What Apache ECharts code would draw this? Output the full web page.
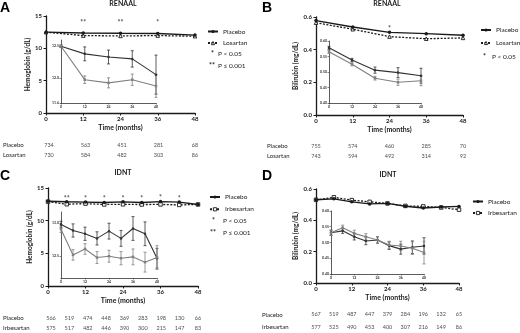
<!DOCTYPE html>
<html>
<head>
<meta charset="utf-8">
<script src="https://cdn.jsdelivr.net/npm/echarts@6/dist/echarts.min.js"></script>
<style>
html, body { margin: 0; padding: 0; background: #fff; }
#main { width: 520px; height: 333px; }
</style>
</head>
<body>
<div id="main"></div>
<script>
// RENAAL visits every 12 months, IDNT every 6
var monthsR = [0, 12, 24, 36, 48];
var monthsI = [0, 6, 12, 18, 24, 30, 36, 42, 48];

// A - RENAAL hemoglobin (g/dL)
var hbPlaceboR = [12.5, 12.38, 12.33, 12.3, 12.05];
var hbLosartan = [12.5, 11.97, 11.92, 11.97, 11.87];
var hbPlaceboRErr = [0.02, 0.11, 0.11, 0.13, 0.31];
var hbLosartanErr = [0.02, 0.06, 0.08, 0.09, 0.18];
var hbSigR = ['', '**', '**', '*', ''];
var atRiskPlaceboA = [734, 563, 451, 281, 68];
var atRiskLosartanA = [730, 584, 482, 303, 86];

// B - RENAAL bilirubin (mg/dL)
var biliPlaceboR = [0.578, 0.539, 0.506, 0.498, 0.488];
var biliLosartan = [0.565, 0.525, 0.48, 0.467, 0.472];
var biliPlaceboRErr = [0.005, 0.005, 0.01, 0.016, 0.024];
var biliLosartanErr = [0.005, 0.005, 0.006, 0.01, 0.016];
var biliSigR = ['', '', '*', '', ''];
var atRiskPlaceboB = [755, 574, 460, 285, 70];
var atRiskLosartanB = [743, 594, 492, 314, 92];

// C - IDNT hemoglobin (g/dL)
var hbPlaceboI = [12.98, 12.89, 12.84, 12.77, 12.88, 12.77, 12.92, 12.84, 12.47];
var hbIrbesartan = [12.91, 12.52, 12.61, 12.48, 12.5, 12.47, 12.49, 12.41, 12.48];
var hbPlaceboIErr = [0.05, 0.1, 0.1, 0.1, 0.12, 0.12, 0.18, 0.18, 0.15];
var hbIrbesartanErr = [0.05, 0.08, 0.08, 0.09, 0.09, 0.1, 0.12, 0.15, 0.18];
var hbSigI = ['', '**', '*', '*', '*', '*', '*', '*', ''];
var atRiskPlaceboC = [566, 519, 474, 448, 369, 283, 198, 130, 66];
var atRiskIrbesartanC = [575, 517, 482, 446, 390, 300, 215, 147, 83];

// D - IDNT bilirubin (mg/dL)
var biliPlaceboI = [0.531, 0.537, 0.518, 0.505, 0.508, 0.49, 0.479, 0.485, 0.489];
var biliIrbesartan = [0.531, 0.547, 0.529, 0.518, 0.508, 0.492, 0.489, 0.482, 0.468];
var biliPlaceboIErr = [0.008, 0.008, 0.01, 0.012, 0.01, 0.012, 0.016, 0.02, 0.026];
var biliIrbesartanErr = [0.008, 0.008, 0.01, 0.01, 0.01, 0.012, 0.015, 0.02, 0.036];
var atRiskPlaceboD = [567, 519, 487, 447, 379, 284, 196, 132, 65];
var atRiskIrbesartanD = [577, 525, 490, 453, 400, 307, 216, 149, 86];

var FONT = 'Lato, "DejaVu Sans", sans-serif';
var INK = '#1a1a1a';
var GREY = '#808080';

var grids = [], xAxes = [], yAxes = [], series = [], legends = [], graphics = [];

function zip(xs, ys) {
  return xs.map(function (x, i) { return [x, ys[i]]; });
}

function errorBars(axisIdx, xs, ys, errs, color) {
  return {
    type: 'custom',
    xAxisIndex: axisIdx, yAxisIndex: axisIdx,
    silent: true,
    encode: { x: 0, y: [1, 2] },
    data: xs.map(function (x, i) { return [x, ys[i] - errs[i], ys[i] + errs[i]]; }),
    renderItem: function (params, api) {
      var lo = api.coord([api.value(0), api.value(1)]);
      var hi = api.coord([api.value(0), api.value(2)]);
      var w = 1.5;
      var st = { stroke: color, lineWidth: 0.8 };
      return {
        type: 'group',
        children: [
          { type: 'line', shape: { x1: lo[0], y1: lo[1], x2: hi[0], y2: hi[1] }, style: st },
          { type: 'line', shape: { x1: lo[0] - w, y1: lo[1], x2: lo[0] + w, y2: lo[1] }, style: st },
          { type: 'line', shape: { x1: hi[0] - w, y1: hi[1], x2: hi[0] + w, y2: hi[1] }, style: st }
        ]
      };
    }
  };
}

function addPanel(p) {
  var m = grids.length;      // main grid
  var ins = m + 1;           // inset grid
  var tb = m + 2;            // number-at-risk grid

  grids.push(p.main, p.inset, p.table);

  // main axes
  xAxes.push({
    gridIndex: m, type: 'value', min: 0, max: 48, interval: 12,
    name: 'Time (months)', nameLocation: 'middle', nameGap: 11,
    nameTextStyle: { fontFamily: FONT, fontWeight: 'bold', fontSize: 7, color: INK },
    axisLine: { lineStyle: { color: INK, width: 1.3 } },
    axisTick: { length: 2.5, lineStyle: { color: INK, width: 1 } },
    axisLabel: { fontFamily: FONT, fontWeight: 'bold', fontSize: 6, color: INK, margin: 3.5 },
    splitLine: { show: false }
  });
  yAxes.push({
    gridIndex: m, type: 'value', min: 0, max: p.yMax, interval: p.yStep,
    name: p.yName, nameLocation: 'middle', nameGap: 12,
    nameTextStyle: { fontFamily: FONT, fontWeight: 'bold', fontSize: 6.5, color: INK },
    axisLine: { show: true, lineStyle: { color: INK, width: 1.3 } },
    axisTick: { show: true, length: 2.5, lineStyle: { color: INK, width: 1 } },
    axisLabel: {
      fontFamily: FONT, fontWeight: 'bold', fontSize: 6, color: INK, margin: 4,
      formatter: function (v) { return v.toFixed(p.yDigits); }
    },
    splitLine: { show: false }
  });

  // inset axes
  xAxes.push({
    gridIndex: ins, type: 'value', min: 0, max: 48, interval: 12,
    axisLine: { lineStyle: { color: '#333', width: 0.8 } },
    axisTick: { length: 1.5, lineStyle: { color: '#333', width: 0.6 } },
    axisLabel: { fontFamily: FONT, fontWeight: 'bold', fontSize: 3.5, color: '#333', margin: 2 },
    splitLine: { show: false }
  });
  var insY = {
    gridIndex: ins, type: 'value', min: p.insMin, max: p.insMax,
    axisLine: { show: true, lineStyle: { color: '#333', width: 0.8 } },
    axisTick: { show: true, length: 1.5, lineStyle: { color: '#333', width: 0.6 } },
    axisLabel: {
      fontFamily: FONT, fontWeight: 'bold', fontSize: 3.5, color: '#333', margin: 2,
      formatter: function (v) { return v.toFixed(p.insDigits); }
    },
    splitLine: { show: false }
  };
  if (p.insTicks) {
    insY.axisLabel.customValues = p.insTicks;
    insY.axisTick.customValues = p.insTicks;
  } else {
    insY.interval = p.insStep;
  }
  yAxes.push(insY);

  // number-at-risk table axes
  xAxes.push({ gridIndex: tb, type: 'value', min: 0, max: 48, show: false });
  yAxes.push({
    gridIndex: tb, type: 'category', inverse: true, data: ['Placebo', p.drug],
    axisLine: { show: false }, axisTick: { show: false },
    axisLabel: { fontFamily: FONT, fontSize: 6, color: INK, align: 'left', margin: p.tableLabelMargin }
  });

  // main lines
  series.push({
    name: 'Placebo', type: 'line', xAxisIndex: m, yAxisIndex: m,
    data: zip(p.months, p.placebo),
    symbol: 'circle', symbolSize: 3.5,
    itemStyle: { color: INK },
    lineStyle: { color: INK, width: 1.4 },
    z: 5
  });
  series.push({
    name: p.drug, type: 'line', xAxisIndex: m, yAxisIndex: m,
    data: zip(p.months, p.drugVals),
    symbol: p.drugSymbol, symbolSize: 3.5,
    itemStyle: { color: '#fff', borderColor: INK, borderWidth: 0.9 },
    lineStyle: { color: INK, width: 1.3, type: [2, 1.5] },
    z: 4
  });
  if (p.sig) {
    series.push({
      type: 'scatter', xAxisIndex: m, yAxisIndex: m, silent: true,
      data: zip(p.months, p.placebo), symbolSize: 0,
      label: {
        show: true, position: 'top', distance: p.sigGap,
        fontFamily: FONT, fontWeight: 'bold', fontSize: 7, color: INK,
        formatter: function (d) { return p.sig[d.dataIndex]; }
      },
      z: 6
    });
  }

  // inset lines with error bars
  series.push(errorBars(ins, p.months, p.placebo, p.placeboErr, '#333'));
  series.push(errorBars(ins, p.months, p.drugVals, p.drugErr, GREY));
  series.push({
    name: 'Placebo (inset)', type: 'line', xAxisIndex: ins, yAxisIndex: ins,
    data: zip(p.months, p.placebo), symbol: 'circle', symbolSize: 2.5,
    itemStyle: { color: '#333' }, lineStyle: { color: '#333', width: 1.1 }, z: 3
  });
  series.push({
    name: p.drug + ' (inset)', type: 'line', xAxisIndex: ins, yAxisIndex: ins,
    data: zip(p.months, p.drugVals), symbol: 'rect', symbolSize: 2.5,
    itemStyle: { color: GREY }, lineStyle: { color: GREY, width: 1.1 }, z: 3
  });

  // number-at-risk rows
  [['Placebo', p.riskPlacebo], [p.drug, p.riskDrug]].forEach(function (row) {
    series.push({
      type: 'scatter', xAxisIndex: tb, yAxisIndex: tb, silent: true, symbolSize: 0,
      data: p.tableMonths.map(function (x, i) { return [x, row[0], row[1][i]]; }),
      label: {
        show: true, position: 'inside', fontFamily: FONT, fontSize: 5.5, color: INK,
        formatter: function (d) { return d.value[2]; }
      }
    });
  });

  legends.push({
    orient: 'vertical', left: p.legendLeft, top: p.legendTop,
    itemWidth: 10, itemHeight: 4, itemGap: p.legendGap, padding: 0,
    textStyle: { fontFamily: FONT, fontSize: 6.5, lineHeight: 7, color: INK },
    data: [
      { name: 'Placebo', itemStyle: { color: INK } },
      { name: p.drug, itemStyle: { color: '#fff', borderColor: INK, borderWidth: 0.9 }, lineStyle: { color: INK, type: [2, 1.5] } }
    ]
  });

  graphics.push({
    type: 'text', x: p.titleX, y: p.titleY,
    style: { text: p.title, fontFamily: FONT, fontWeight: 'bold', fontSize: 7, fill: INK, align: 'center', verticalAlign: 'middle' }
  });
  graphics.push({
    type: 'text', x: p.letterX, y: p.letterY,
    style: { text: p.letter, fontFamily: 'Liberation Sans, Arial, sans-serif', fontWeight: 'bold', fontSize: 14, fill: '#000', align: 'left', verticalAlign: 'middle' }
  });
  (p.starKey || []).forEach(function (k) {
    graphics.push({
      type: 'text', x: k[0], y: k[2],
      style: { text: k[3], fontFamily: FONT, fontWeight: 'bold', fontSize: 7, fill: INK, align: 'left', verticalAlign: 'middle' }
    });
    graphics.push({
      type: 'text', x: k[1], y: k[2],
      style: { text: k[4], fontFamily: FONT, fontSize: 6.5, fill: INK, align: 'left', verticalAlign: 'middle' }
    });
  });
}

addPanel({
  letter: 'A', letterX: 0, letterY: 8, title: 'RENAAL', titleX: 123, titleY: 4,
  main: { left: 46, top: 16, width: 149, height: 97 },
  inset: { left: 61, top: 40, width: 95, height: 63 },
  table: { left: 46, top: 139.5, width: 149, height: 21 },
  yMax: 15, yStep: 5, yDigits: 0, yName: 'Hemoglobin (g/dL)',
  insMin: 11.6, insMax: 12.6, insTicks: [11.6, 12.0, 12.5], insDigits: 1,
  months: monthsR, tableMonths: monthsR,
  placebo: hbPlaceboR, drugVals: hbLosartan, placeboErr: hbPlaceboRErr, drugErr: hbLosartanErr,
  drug: 'Losartan', drugSymbol: 'triangle',
  sig: hbSigR, sigGap: 7,
  riskPlacebo: atRiskPlaceboA, riskDrug: atRiskLosartanA, tableLabelMargin: 46,
  legendLeft: 207, legendTop: 28, legendGap: 4.6,
  starKey: [[211, 218, 53.5, '*', 'P < 0.05'], [209, 218, 66, '**', 'P \u2264 0.001']]
});

addPanel({
  letter: 'B', letterX: 262, letterY: 8, title: 'RENAAL', titleX: 387, titleY: 4,
  main: { left: 316, top: 17, width: 147, height: 98 },
  inset: { left: 329, top: 41, width: 92, height: 62 },
  table: { left: 316, top: 140.5, width: 147, height: 21 },
  yMax: 0.6, yStep: 0.2, yDigits: 1, yName: 'Bilirubin (mg/dL)',
  insMin: 0.4, insMax: 0.6, insStep: 0.05, insDigits: 2,
  months: monthsR, tableMonths: monthsR,
  placebo: biliPlaceboR, drugVals: biliLosartan, placeboErr: biliPlaceboRErr, drugErr: biliLosartanErr,
  drug: 'Losartan', drugSymbol: 'triangle',
  sig: biliSigR, sigGap: 0,
  riskPlacebo: atRiskPlaceboB, riskDrug: atRiskLosartanB, tableLabelMargin: 49,
  legendLeft: 480, legendTop: 26.5, legendGap: 6,
  starKey: [[483, 492, 57, '*', 'P < 0.05']]
});

addPanel({
  letter: 'C', letterX: 0, letterY: 176, title: 'IDNT', titleX: 123, titleY: 173,
  main: { left: 48, top: 188, width: 150, height: 98 },
  inset: { left: 61, top: 212, width: 96, height: 66 },
  table: { left: 48, top: 313.5, width: 150, height: 24 },
  yMax: 15, yStep: 5, yDigits: 0, yName: 'Hemoglobin (g/dL)',
  insMin: 12.17, insMax: 13.17, insTicks: [12.5, 13.0], insDigits: 1,
  months: monthsI, tableMonths: monthsI,
  placebo: hbPlaceboI, drugVals: hbIrbesartan, placeboErr: hbPlaceboIErr, drugErr: hbIrbesartanErr,
  drug: 'Irbesartan', drugSymbol: 'rect',
  sig: hbSigI, sigGap: 0,
  riskPlacebo: atRiskPlaceboC, riskDrug: atRiskIrbesartanC, tableLabelMargin: 48,
  legendLeft: 209, legendTop: 193.5, legendGap: 5.3,
  starKey: [[212, 223, 220.5, '*', 'P < 0.05'], [210, 223, 232.5, '**', 'P \u2264 0.001']]
});

addPanel({
  letter: 'D', letterX: 262, letterY: 176, title: 'IDNT', titleX: 388, titleY: 175,
  main: { left: 316, top: 189, width: 143, height: 94 },
  inset: { left: 331, top: 211, width: 93, height: 63 },
  table: { left: 316, top: 308.5, width: 143, height: 30 },
  yMax: 0.6, yStep: 0.2, yDigits: 1, yName: 'Bilirubin (mg/dL)',
  insMin: 0.4, insMax: 0.6, insStep: 0.05, insDigits: 2,
  months: monthsI, tableMonths: monthsI,
  placebo: biliPlaceboI, drugVals: biliIrbesartan, placeboErr: biliPlaceboIErr, drugErr: biliIrbesartanErr,
  drug: 'Irbesartan', drugSymbol: 'rect',
  sig: null,
  riskPlacebo: atRiskPlaceboD, riskDrug: atRiskIrbesartanD, tableLabelMargin: 54,
  legendLeft: 472, legendTop: 198, legendGap: 4.5
});

var chart = echarts.init(document.getElementById('main'), null, { renderer: 'canvas' });
chart.setOption({
  animation: false,
  backgroundColor: '#fff',
  grid: grids,
  xAxis: xAxes,
  yAxis: yAxes,
  legend: legends,
  series: series,
  graphic: graphics
});
</script>
</body>
</html>
